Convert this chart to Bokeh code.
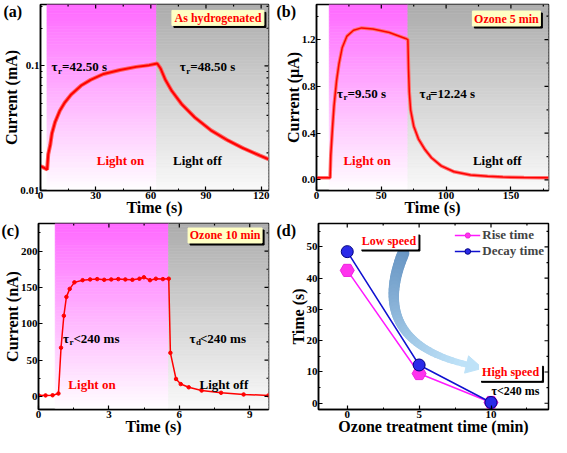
import numpy as np
from bokeh.plotting import figure
from bokeh.models import Range1d, FixedTicker, Label, PrintfTickFormatter
from bokeh.layouts import row, column
from bokeh.embed import file_html
from bokeh.resources import INLINE

FONT = "Liberation Serif"

# ---------------- data ----------------
# (a) as hydrogenated, current in mA (log axis)
a_time = [0, 2, 3.6, 4.2, 5.3, 6.2, 7.9, 10.5, 13.2, 16.7, 22.0, 27.3, 34.3, 43.2, 52.0, 59.1, 63.5,
          65.3, 67.9, 71.5, 76.8, 83.8, 92.7, 101.5, 110.3, 119.1, 124.0]
a_current = [0.0157, 0.0152, 0.0147, 0.0195, 0.0232, 0.0286, 0.0353, 0.0436, 0.0507, 0.0589, 0.0693,
             0.0772, 0.0860, 0.0925, 0.0980, 0.1012, 0.1043, 0.0952, 0.0772, 0.0626, 0.0492, 0.0387,
             0.0304, 0.0254, 0.0218, 0.0191, 0.0178]
a_light = [3.5, 63.1, 124.0]   # light on, light off, end

# (b) ozone 5 min, current in uA
b_time = [0, 5, 10.5, 11.0, 12.3, 13.5, 15.5, 17.3, 19.8, 23.5, 28.6, 34.8, 43.6, 56.2, 68.6, 70.5,
          71.0, 71.6, 72.6, 75.0, 78.7, 83.7, 88.7, 96.2, 106.2, 118.8, 132.0, 143.8, 160.0, 176.5, 179.0]
b_current = [0.02, 0.02, 0.02, 0.21, 0.44, 0.63, 0.85, 0.99, 1.13, 1.23, 1.28, 1.30, 1.29, 1.26, 1.21, 1.20,
             0.95, 0.75, 0.60, 0.46, 0.35, 0.26, 0.19, 0.12, 0.07, 0.042, 0.032, 0.025, 0.022, 0.02, 0.02]
b_light = [9.8, 70.5, 179.0]

# (c) ozone 10 min, current in nA
c_time = [0, 0.3, 0.6, 0.85, 0.96, 1.08, 1.19, 1.33, 1.53, 1.88, 2.2, 2.5, 2.8, 3.1, 3.4, 3.7, 4.0,
          4.3, 4.49, 4.75, 5.0, 5.3, 5.55, 5.62, 5.86, 6.06, 6.4, 6.95, 7.78, 8.74, 9.8]
c_current = [1.5, 1.4, 1.6, 4, 67, 111, 137, 148, 157, 160, 161, 161.5, 160.5, 161, 161.5, 161, 160.5,
             162, 164, 160, 162, 161.5, 162, 60, 24, 17, 12.6, 8.1, 5.0, 2.7, 1.4]
c_light = [0.71, 5.54, 9.8]

# (d) response times
ozone_min = [0, 5, 10]
rise_time = [42.5, 9.5, 0.24]
decay_time = [48.5, 12.24, 0.24]

x_ticks_a = [0, 30, 60, 90, 120]
y_ticks_a = [0.01, 0.1]
x_ticks_b = [0, 50, 100, 150]
y_ticks_b = [0.0, 0.4, 0.8, 1.2]
x_ticks_c = [0, 3, 6, 9]
y_ticks_c = [0, 50, 100, 150, 200]
x_ticks_d = [0, 5, 10]
y_ticks_d = [0, 10, 20, 30, 40, 50]

MAG_TOP, GRAY_TOP, WHITE = (255, 105, 255), (172, 172, 172), (255, 255, 255)
GRAY_BOT = (250, 250, 250)


def hexc(c):
    return "#%02x%02x%02x" % tuple(int(round(v)) for v in c)


def shade(p, x0, x1, y0, y1, top, bot, log=False, n=60):
    if log:
        edges = np.logspace(np.log10(y0), np.log10(y1), n + 1)
    else:
        edges = np.linspace(y0, y1, n + 1)
    cols = []
    for i in range(n):
        f = (i + 0.5) / n
        cols.append(hexc([b + (t - b) * f for t, b in zip(top, bot)]))
    p.quad(left=[x0] * n, right=[x1] * n, bottom=[float(v) for v in edges[:-1]],
           top=[float(v) for v in edges[1:]], fill_color=cols, line_color=cols, line_width=0.6)


def txt(p, x, y, s, size=13, color="black", align="left", baseline="middle", dx=0, dy=0):
    p.add_layout(Label(x=x, y=y, text=s, x_offset=dx, y_offset=dy, text_font=FONT,
                       text_font_style="bold", text_font_size=f"{size}px", text_color=color,
                       text_align=align, text_baseline=baseline))


def tau(p, x, y, sub, rest):
    txt(p, x, y, "τ", 13)
    txt(p, x, y, sub, 9, dx=6.5, dy=-4)
    txt(p, x, y, rest, 13, dx=10.5)


def box(p, cx, cy, w, h, s, fill, sx, sy, log=False, size=12):
    # shadow offset 2px right / 2px down
    sx_c = cx + 2 * sx
    sy_c = cy * 10 ** (-2 * sy) if log else cy - 2 * sy
    p.rect(x=[sx_c], y=[sy_c], width=w, height=h, width_units="screen", height_units="screen",
           fill_color="black", line_color="black")
    p.rect(x=[cx], y=[cy], width=w, height=h, width_units="screen", height_units="screen",
           fill_color=fill, line_color=fill)
    txt(p, cx, cy, s, size, color="#ff0000", align="center")


def panel_tag(p, s, left):
    p.title.text = s
    p.title.align = "left"
    p.title.offset = -left
    p.title.standoff = -30
    p.title.text_font = FONT
    p.title.text_font_size = "16px"
    p.title.text_font_style = "bold"
    p.title.text_color = "black"


def style(p, xt, yt, xminor, yminor, xlabel, ylabel, xr, yr, yfmt=None, yover=None):
    bx = p.below[0]
    ly = p.left[0]
    bx.ticker = FixedTicker(ticks=xt, minor_ticks=xminor)
    ly.ticker = FixedTicker(ticks=yt, minor_ticks=yminor)
    bx.axis_label = xlabel
    ly.axis_label = ylabel
    if yfmt:
        ly.formatter = yfmt
    if yover:
        ly.major_label_overrides = yover
    for a in (bx, ly):
        a.axis_line_color = "black"
        a.axis_line_width = 1.5
        a.major_tick_in = 4
        a.major_tick_out = 0
        a.minor_tick_in = 2
        a.minor_tick_out = 0
        a.major_tick_line_width = 1.2
        a.major_tick_line_color = "black"
        a.minor_tick_line_color = "black"
        a.major_label_text_font = FONT
        a.major_label_text_font_style = "bold"
        a.major_label_text_font_size = "11px"
        a.major_label_text_color = "black"
        a.major_label_standoff = 1
        a.axis_label_text_font = FONT
        a.axis_label_text_font_style = "bold"
        a.axis_label_text_font_size = "16px"
        a.axis_label_text_color = "black"
        a.axis_label_standoff = -3
    # mirrored inward ticks on the top and right edges
    for vals, ln in ((yt, 4), (yminor, 2)):
        p.ray(x=[xr[1]] * len(vals), y=vals, length=ln, angle=np.pi, length_units="screen",
              line_color="black", line_width=1.2)
    for vals, ln in ((xt, 4), (xminor, 2)):
        p.ray(x=vals, y=[yr[1]] * len(vals), length=ln, angle=-np.pi / 2, length_units="screen",
              line_color="black", line_width=1.2)
    p.xgrid.visible = False
    p.ygrid.visible = False
    p.outline_line_color = "black"
    p.outline_line_width = 1.5


def fig(w, h, xr, yr, l, r, t, b, log=False):
    return figure(width=w, height=h, x_range=Range1d(*xr), y_range=Range1d(*yr),
                  y_axis_type="log" if log else "linear", output_backend="svg",
                  toolbar_location=None, min_border_left=l, min_border_right=r,
                  min_border_top=t, min_border_bottom=b, background_fill_color="white")


# ---------------- (a) ----------------
xr_a, yr_a = (0, 124), (0.01, 0.31)
pa = fig(275, 218, xr_a, yr_a, 37, 7, 4, 27, log=True)
shade(pa, a_light[0], a_light[1], yr_a[0], yr_a[1], MAG_TOP, WHITE, log=True)
shade(pa, a_light[1], a_light[2], yr_a[0], yr_a[1], GRAY_TOP, GRAY_BOT, log=True)
pa.line(a_time, a_current, color="#ff6060", line_width=4)
pa.line(a_time, a_current, color="#ff0000", line_width=2)
style(pa, x_ticks_a, y_ticks_a, [15, 45, 75, 105],
      [0.02, 0.03, 0.04, 0.05, 0.06, 0.07, 0.08, 0.09, 0.2, 0.3], "Time (s)", "Current (mA)",
      xr_a, yr_a, yover={0.01: "0.01", 0.1: "0.1"})
tau(pa, 6.0, 0.098, "r", "=42.50 s")
tau(pa, 75.8, 0.098, "r", "=48.50 s")
txt(pa, 43.5, 0.0174, "Light on", 13, color="#ff0000", align="center")
txt(pa, 85.3, 0.0174, "Light off", 13, align="center")
box(pa, 96.5, 0.242, 92, 15, "As hydrogenated", "#ffffc4", 0.539, 0.0080, log=True)
panel_tag(pa, "(a)", 37)

# ---------------- (b) ----------------
xr_b, yr_b = (0, 179), (-0.09, 1.5)
pb = fig(276, 218, xr_b, yr_b, 41, 3, 4, 27)
shade(pb, b_light[0], b_light[1], yr_b[0], yr_b[1], MAG_TOP, WHITE)
shade(pb, b_light[1], b_light[2], yr_b[0], yr_b[1], GRAY_TOP, GRAY_BOT)
pb.line(b_time, b_current, color="#ff7070", line_width=3.5)
pb.line(b_time, b_current, color="#ff0000", line_width=1.5)
style(pb, x_ticks_b, y_ticks_b, [25, 75, 125, 175], [0.2, 0.6, 1.0, 1.4], "Time (s)", "Current (μA)",
      xr_b, yr_b, yfmt=PrintfTickFormatter(format="%.1f"))
tau(pb, 15.8, 0.74, "r", "=9.50 s")
tau(pb, 79.5, 0.74, "d", "=12.24 s")
txt(pb, 39, 0.164, "Light on", 13, color="#ff0000", align="center")
txt(pb, 139.5, 0.164, "Light off", 13, align="center")
box(pb, 146.5, 1.38, 68, 15, "Ozone 5 min", "#ffffc4", 0.768, 0.00855)
panel_tag(pb, "(b)", 40)

# ---------------- (c) ----------------
xr_c, yr_c = (0, 9.8), (-18, 238)
pc = fig(275, 219, xr_c, yr_c, 37, 7, 5, 27)
shade(pc, c_light[0], c_light[1], yr_c[0], yr_c[1], MAG_TOP, WHITE)
shade(pc, c_light[1], c_light[2], yr_c[0], yr_c[1], GRAY_TOP, GRAY_BOT)
pc.line(c_time, c_current, color="#ff0000", line_width=1.5)
pc.scatter(c_time, c_current, size=3.5, color="#ff0000")
style(pc, x_ticks_c, y_ticks_c, [1.5, 4.5, 7.5], [25, 75, 125, 175, 225], "Time (s)", "Current (nA)",
      xr_c, yr_c)
tau(pc, 1.04, 80, "r", "<240 ms")
tau(pc, 6.43, 80, "d", "<240 ms")
txt(pc, 2.28, 16, "Light on", 13, color="#ff0000", align="center")
txt(pc, 7.9, 16, "Light off", 13, align="center")
box(pc, 7.95, 221.5, 74, 15, "Ozone 10 min", "#ffffc4", 0.0426, 1.40)
panel_tag(pc, "(c)", 37)

# ---------------- (d) ----------------
xr_d, yr_d = (-2, 14), (-2, 57.5)
pd_ = fig(276, 219, xr_d, yr_d, 43, 3, 4, 27)
# curved arrow decoration (Low speed -> High speed)
P0, P1, P2 = (3.9, 48.0), (1.4, 20.0), (8.3, 12.4)
n = 40
ts = np.linspace(0, 1, n + 1)
bxs = (1 - ts) ** 2 * P0[0] + 2 * ts * (1 - ts) * P1[0] + ts ** 2 * P2[0]
bys = (1 - ts) ** 2 * P0[1] + 2 * ts * (1 - ts) * P1[1] + ts ** 2 * P2[1]
c0, c1 = (105, 150, 196), (190, 226, 248)
segx = [[float(bxs[i]), float(bxs[i + 1])] for i in range(n)]
segy = [[float(bys[i]), float(bys[i + 1])] for i in range(n)]
widths = [float(v) for v in np.linspace(12, 6, n)]
cols = [hexc([a + (b - a) * (i / (n - 1)) for a, b in zip(c0, c1)]) for i in range(n)]
pd_.multi_line(segx, segy, line_width=widths, line_color=cols, line_cap="round")
SX, SY = 14.9, 3.18
dxp, dyp = (P2[0] - P1[0]) * SX, (P2[1] - P1[1]) * SY
L = (dxp ** 2 + dyp ** 2) ** 0.5
ux, uy = dxp / L, dyp / L
tip = (P2[0] + ux * 17 / SX, P2[1] + uy * 17 / SY)
b1 = (P2[0] - uy * 9 / SX, P2[1] + ux * 9 / SY)
b2 = (P2[0] + uy * 9 / SX, P2[1] - ux * 9 / SY)
pd_.patch([b1[0], tip[0], b2[0]], [b1[1], tip[1], b2[1]], fill_color=hexc(c1), line_color=hexc(c1))

RISE, DECAY = "#ff19ff", "#1010d0"
pd_.line(ozone_min, rise_time, color=RISE, line_width=1.5, legend_label="Rise time")
pd_.scatter(ozone_min, rise_time, marker="hex", size=14, fill_color="#ff33ee", line_color="#ee22dd",
            legend_label="Rise time")
pd_.line(ozone_min, decay_time, color=DECAY, line_width=1.5, legend_label="Decay time")
pd_.scatter(ozone_min, decay_time, marker="circle", size=12, fill_color="#2a2ae8", line_color="#000080",
            legend_label="Decay time")
style(pd_, x_ticks_d, y_ticks_d, [2.5, 7.5, 12.5], [5, 15, 25, 35, 45, 55],
      "Ozone treatment time (min)", "Time (s)", xr_d, yr_d)
lg = pd_.legend[0]
lg.location = "top_right"
lg.border_line_alpha = 0
lg.background_fill_alpha = 0
lg.label_text_font = FONT
lg.label_text_font_style = "bold"
lg.label_text_font_size = "13px"
lg.glyph_width = 26
lg.label_standoff = 2
lg.spacing = 0
lg.padding = 2
lg.margin = 2
lg.label_height = 14
lg.glyph_height = 14
box(pd_, 2.9, 51.9, 58, 16, "Low speed", "white", 0.0693, 0.325)
box(pd_, 11.36, 9.9, 62, 16, "High speed", "white", 0.0693, 0.325)
txt(pd_, 11.7, 3.8, "τ<240 ms", 12, align="center")
panel_tag(pd_, "(d)", 42)

layout = column(row(pa, pb), row(pc, pd_))
open("out.html", "w").write(file_html(layout, INLINE))
